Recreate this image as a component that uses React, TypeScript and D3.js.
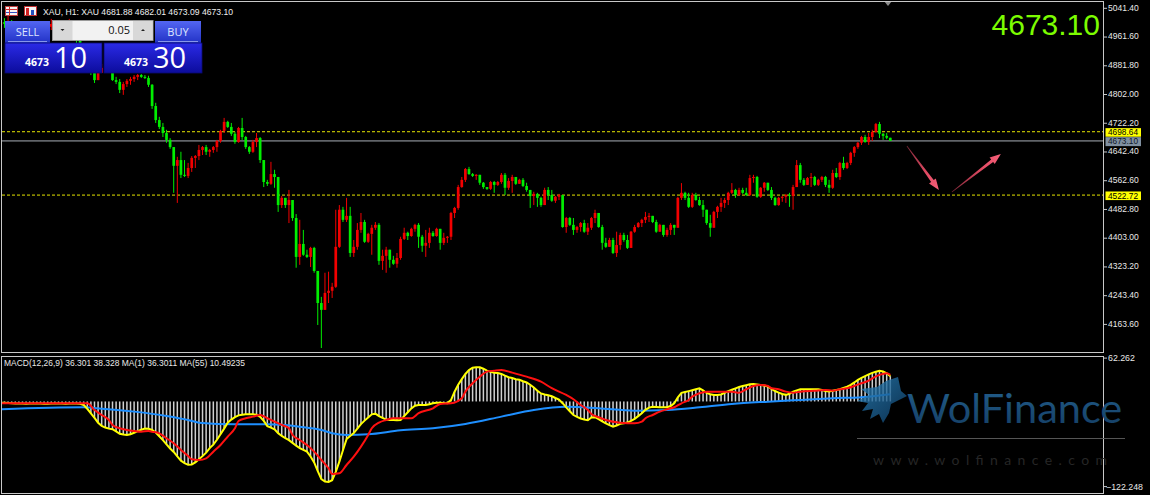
import React from "react";
import * as d3 from "d3";

// ---------- DATA (XAU H1) ----------
const firstOpen = 4995;
const closes = [
  5003, 4998, 5006, 4992, 4981, 4987, 4973, 4965, 4976, 4967,
  4959, 4970, 4981, 4990, 4998, 4984, 4973, 4981, 4992, 5001,
  4981, 4953, 4926, 4898, 4876, 4865, 4842, 4862, 4876, 4881,
  4870, 4842, 4837, 4815, 4831, 4840, 4845, 4851, 4856, 4851,
  4848, 4829, 4770, 4731, 4712, 4695, 4676, 4656, 4604, 4620,
  4579, 4576, 4598, 4626, 4631, 4648, 4656, 4643, 4648, 4656,
  4673, 4701, 4726, 4712, 4693, 4670, 4709, 4684, 4656, 4643,
  4670, 4681, 4620, 4559, 4554, 4581, 4573, 4495, 4515, 4495,
  4509, 4459, 4351, 4387, 4357, 4351, 4376, 4312, 4223, 4204,
  4251, 4257, 4268, 4379, 4482, 4454, 4465, 4362, 4379, 4426,
  4448, 4393, 4415, 4432, 4440, 4340, 4354, 4371, 4343, 4332,
  4348, 4401, 4418, 4409, 4429, 4440, 4407, 4382, 4390, 4418,
  4409, 4429, 4390, 4404, 4407, 4473, 4487, 4545, 4565, 4595,
  4581, 4576, 4579, 4557, 4545, 4540, 4559, 4551, 4559, 4579,
  4543, 4562, 4573, 4554, 4565, 4548, 4537, 4520, 4526, 4515,
  4495, 4537, 4523, 4507, 4518, 4523, 4434, 4459, 4440, 4426,
  4434, 4445, 4421, 4432, 4459, 4473, 4434, 4390, 4379, 4398,
  4362, 4384, 4412, 4398, 4376, 4421, 4434, 4445, 4454, 4462,
  4465, 4448, 4421, 4440, 4412, 4426, 4440, 4432, 4515, 4529,
  4515, 4490, 4523, 4509, 4495, 4482, 4445, 4432, 4476, 4490,
  4501, 4509, 4529, 4537, 4523, 4537, 4529, 4523, 4570, 4573,
  4518, 4543, 4557, 4537, 4515, 4495, 4515, 4518, 4523, 4520,
  4545, 4606, 4565, 4551, 4570, 4573, 4551, 4565, 4573, 4551,
  4543, 4584, 4573, 4612, 4598, 4612, 4640, 4656, 4668, 4684,
  4670, 4684, 4698, 4720, 4693, 4687, 4681.88, 4673.1,
];
const highs = [
  5017, 5014, 5020, 5009, 4998, 4995, 4990, 4981, 4984, 4981,
  4973, 4978, 4992, 5003, 5012, 5001, 4990, 4992, 5003, 5012,
  5003, 4987, 4959, 4931, 4903, 4884, 4862, 4867, 4887, 4892,
  4887, 4859, 4851, 4845, 4837, 4845, 4851, 4856, 4859, 4859,
  4856, 4854, 4831, 4779, 4740, 4723, 4704, 4681, 4656, 4629,
  4643, 4620, 4612, 4631, 4634, 4662, 4659, 4662, 4651, 4659,
  4676, 4704, 4737, 4729, 4723, 4698, 4712, 4737, 4687, 4659,
  4676, 4695, 4684, 4620, 4565, 4615, 4593, 4573, 4520, 4515,
  4537, 4509, 4470, 4454, 4426, 4371, 4379, 4379, 4310, 4240,
  4307, 4310, 4279, 4482, 4495, 4490, 4515, 4490, 4398, 4445,
  4473, 4454, 4418, 4440, 4448, 4445, 4371, 4379, 4371, 4354,
  4362, 4407, 4432, 4421, 4432, 4443, 4445, 4412, 4426, 4432,
  4423, 4432, 4426, 4418, 4409, 4476, 4490, 4551, 4573, 4598,
  4601, 4584, 4581, 4573, 4559, 4545, 4562, 4562, 4562, 4584,
  4584, 4570, 4579, 4570, 4568, 4570, 4557, 4537, 4532, 4529,
  4518, 4543, 4545, 4537, 4520, 4526, 4523, 4462, 4462, 4459,
  4437, 4448, 4454, 4445, 4462, 4482, 4473, 4440, 4404, 4404,
  4404, 4421, 4418, 4418, 4412, 4423, 4440, 4448, 4457, 4476,
  4473, 4465, 4454, 4443, 4440, 4432, 4445, 4440, 4518, 4556,
  4532, 4529, 4529, 4529, 4518, 4509, 4482, 4468, 4479, 4493,
  4515, 4515, 4532, 4556, 4540, 4543, 4543, 4543, 4579, 4579,
  4576, 4545, 4559, 4557, 4545, 4518, 4518, 4520, 4526, 4529,
  4551, 4620, 4612, 4570, 4573, 4584, 4576, 4568, 4576, 4576,
  4565, 4593, 4598, 4615, 4629, 4615, 4643, 4659, 4670, 4687,
  4690, 4695, 4704, 4723, 4726, 4695, 4695, 4682.01,
];
const lows = [
  4990, 4987, 4992, 4981, 4973, 4970, 4962, 4953, 4956, 4953,
  4945, 4951, 4965, 4976, 4981, 4973, 4962, 4965, 4973, 4984,
  4967, 4942, 4912, 4887, 4867, 4856, 4834, 4851, 4865, 4867,
  4862, 4840, 4831, 4806, 4801, 4823, 4829, 4837, 4842, 4848,
  4845, 4823, 4762, 4723, 4706, 4684, 4668, 4651, 4529, 4501,
  4570, 4573, 4570, 4587, 4598, 4620, 4634, 4634, 4629, 4640,
  4643, 4668, 4695, 4709, 4687, 4665, 4668, 4676, 4651, 4637,
  4640, 4656, 4612, 4545, 4548, 4551, 4543, 4476, 4487, 4487,
  4445, 4451, 4321, 4329, 4354, 4348, 4323, 4307, 4162, 4098,
  4204, 4223, 4237, 4265, 4376, 4448, 4448, 4351, 4351, 4371,
  4418, 4390, 4390, 4357, 4426, 4329, 4315, 4307, 4321, 4329,
  4321, 4343, 4398, 4398, 4407, 4421, 4376, 4365, 4351, 4376,
  4407, 4407, 4371, 4384, 4390, 4398, 4459, 4482, 4543, 4559,
  4579, 4573, 4565, 4551, 4540, 4537, 4537, 4529, 4548, 4554,
  4523, 4537, 4529, 4551, 4554, 4545, 4532, 4487, 4495, 4490,
  4490, 4495, 4509, 4504, 4501, 4509, 4432, 4418, 4437, 4412,
  4418, 4421, 4418, 4412, 4426, 4445, 4432, 4371, 4376, 4379,
  4359, 4351, 4371, 4393, 4373, 4376, 4418, 4432, 4434, 4445,
  4448, 4445, 4418, 4421, 4407, 4407, 4412, 4412, 4432, 4509,
  4509, 4487, 4487, 4507, 4493, 4462, 4440, 4407, 4432, 4459,
  4476, 4487, 4495, 4526, 4515, 4520, 4526, 4520, 4520, 4557,
  4515, 4515, 4532, 4534, 4509, 4493, 4493, 4504, 4501, 4490,
  4482, 4545, 4557, 4548, 4551, 4545, 4548, 4548, 4559, 4545,
  4529, 4540, 4570, 4565, 4593, 4595, 4606, 4629, 4651, 4662,
  4668, 4662, 4673, 4695, 4681, 4676, 4678, 4673.09,
];
// MACD main line (MA(1) of MACD, yellow) and histogram
const macdMain = [
  -1.7, -1.9, -2.2, -2.6, -2.9, -3.0, -3.1, -3.2, -3.0, -2.8,
  -2.9, -3.1, -3.3, -3.2, -3.0, -2.9, -2.8, -3.0, -3.2, -3.1,
  -2.9, -3.0, -3.4, -5.0, -10.5, -17.0, -23.5, -30.5, -35.0, -37.5,
  -39.0, -39.8, -43.0, -46.5, -47.5, -48.0, -47.0, -45.0, -42.5, -40.5,
  -39.0, -39.2, -41.0, -44.5, -50.0, -55.5, -61.5, -67.5, -72.5, -79.0,
  -85.0, -88.5, -91.0, -90.5, -87.5, -83.0, -78.5, -73.5, -67.0, -62.0,
  -55.0, -47.0, -39.0, -30.5, -26.0, -22.5, -20.0, -19.0, -18.5, -18.4,
  -18.4, -19.0, -22.0, -28.0, -35.5, -37.5, -40.0, -45.5, -49.5, -52.5,
  -55.5, -59.5, -63.5, -67.0, -69.5, -72.0, -79.0, -87.5, -100.0, -111.5,
  -115.0, -115.5, -113.0, -101.0, -86.5, -70.0, -54.0, -49.5, -45.5, -39.0,
  -32.5, -27.5, -23.0, -18.5, -17.5, -21.0, -23.5, -26.0, -26.6, -26.6,
  -27.0, -26.5, -21.0, -15.5, -10.0, -6.2, -5.0, -5.0, -5.0, -4.0,
  -2.6, -2.0, -1.7, -2.2, -2.4, 2.0, 14.0, 24.0, 32.0, 39.5,
  45.0, 48.5, 49.1, 49.1, 47.0, 44.2, 42.5, 41.2, 40.8, 39.5,
  37.0, 34.8, 33.6, 32.0, 31.1, 29.0, 27.2, 24.0, 20.0, 15.5,
  11.5, 10.0, 8.9, 7.4, 5.0, 2.8, -2.5, -8.5, -14.0, -19.5,
  -22.0, -24.5, -26.0, -27.0, -23.0, -22.5, -25.5, -28.5, -31.5, -34.0,
  -36.2, -34.5, -32.2, -31.2, -30.3, -27.8, -25.0, -21.0, -17.0, -12.0,
  -8.8, -7.6, -8.0, -8.3, -8.3, -8.3, -6.5, -2.5, 6.0, 12.3,
  13.5, 14.8, 16.1, 17.4, 18.8, 15.8, 12.2, 10.4, 9.3, 9.3,
  10.0, 12.5, 14.8, 16.9, 18.8, 20.8, 22.1, 23.4, 24.6, 25.1,
  24.3, 23.6, 22.9, 21.6, 18.2, 15.0, 12.8, 10.7, 9.5, 11.0,
  14.1, 15.9, 17.5, 17.5, 17.5, 17.5, 17.5, 17.5, 16.5, 15.0,
  14.3, 15.3, 16.4, 17.5, 19.4, 21.3, 23.8, 27.3, 31.0, 34.0,
  36.5, 38.8, 41.0, 42.6, 44.0, 43.0, 40.5, 36.3,
];
// Signal line (red), read at these bar indices
const signalIdx = [0, 24, 26, 28, 30, 31, 33, 35, 37, 39, 41, 42, 44, 46, 48, 50, 52, 53, 55, 57, 59, 61, 63, 65, 66, 68, 70, 72, 74, 76, 78, 80, 81, 83, 85, 87, 89, 91, 92, 94, 96, 98, 100, 102, 103, 105, 107, 109, 111, 114, 116, 120, 122, 125, 128, 129, 131, 133, 135, 137, 139, 142, 146, 150, 153, 157, 159, 161, 163, 164, 166, 168, 172, 176, 178, 179, 181, 183, 185, 187, 189, 191, 192, 194, 196, 200, 203, 205, 207, 209, 211, 213, 214, 216, 218, 220, 222, 226, 229, 231, 233, 235, 237, 239, 241, 242, 244, 246, 247];
const signalVals = [-2.6, -2.6, -12.2, -19.4, -26.6, -33.7, -38.5, -40.9, -42.4, -43.4, -42.4, -43.4, -45.7, -52.8, -60.0, -69.6, -78.3, -83.0, -84.0, -81.6, -72.1, -62.5, -50.5, -38.5, -28.0, -24.1, -21.8, -19.4, -24.1, -29.0, -33.7, -38.5, -48.1, -55.3, -62.5, -72.1, -84.0, -95.9, -104.1, -103.1, -91.2, -79.3, -64.9, -48.1, -38.5, -30.4, -26.6, -24.1, -24.1, -24.1, -16.9, -9.8, -3.6, -2.6, 4.6, 14.1, 26.1, 35.6, 42.8, 44.2, 45.2, 41.4, 35.6, 28.4, 19.0, 9.3, 3.2, -5.0, -12.2, -17.9, -22.7, -26.6, -30.4, -31.3, -29.0, -24.1, -19.4, -14.6, -11.2, -8.3, -2.6, 2.2, 6.9, 11.8, 14.1, 14.1, 14.1, 12.6, 17.5, 22.3, 23.7, 22.3, 19.0, 17.5, 14.1, 12.6, 14.1, 15.5, 16.5, 15.5, 17.5, 19.0, 22.3, 26.1, 29.9, 33.3, 38.1, 40.5, 38.3];
// MA(55) of MACD (blue), read at these bar indices
const ma55Idx = [0, 23, 28, 37, 46, 52, 55, 65, 74, 83, 89, 92, 96, 102, 111, 120, 129, 139, 148, 157, 166, 176, 185, 194, 203, 213, 222, 231, 241, 247];
const ma55Vals = [-11.2, -8.4, -10.3, -14.6, -20.8, -26.6, -30.4, -32.8, -32.8, -36.2, -40.9, -45.7, -48.1, -47.1, -41.5, -38.5, -32.3, -21.8, -12.2, -7.5, -9.8, -13.2, -12.2, -8.4, -3.6, -0.3, 2.2, 4.6, 6.9, 10.5];

const priceTicks = [5041.4, 4961.6, 4881.8, 4802.0, 4722.2, 4642.4, 4562.6, 4482.8, 4403.0, 4323.2, 4243.4, 4163.6];
const macdTicks = [62.262, -122.248];
const levelLines = [4698.64, 4522.72];
const bidPrice = 4673.1;
const headerText = "XAU, H1:  XAU  4681.88 4682.01 4673.09 4673.10";
const macdText = "MACD(12,26,9) 36.301 38.328 MA(1) 36.3011 MA(55) 10.49235";
const lotText = "0.05";
const sellBig = ["4673", "10"];
const buyBig = ["4673", "30"];
// forecast arrows: [barIndex, price] -> [barIndex, price]
const arrows = [
  { from: [251.6, 4659], to: [260.5, 4537] },
  { from: [264.1, 4531], to: [277.7, 4637] },
];

const FONT = "'Liberation Sans', Arial, sans-serif";

function arrowPath(x1: number, y1: number, x2: number, y2: number) {
  const dx = x2 - x1, dy = y2 - y1;
  const L = Math.hypot(dx, dy);
  const ux = dx / L, uy = dy / L;
  const nx = -uy, ny = ux;
  const hl = 11, hw = 4.2, w0 = 0.3, w1 = 1.6;
  const bx = x2 - ux * hl, by = y2 - uy * hl;
  const p = (a: number, b: number) => `${a.toFixed(2)},${b.toFixed(2)}`;
  return `M${p(x1 + nx * w0, y1 + ny * w0)} L${p(bx + nx * w1, by + ny * w1)} L${p(bx + nx * hw, by + ny * hw)} L${p(x2, y2)} L${p(bx - nx * hw, by - ny * hw)} L${p(bx - nx * w1, by - ny * w1)} L${p(x1 - nx * w0, y1 - ny * w0)} Z`;
}

export default function App() {
  const W = 1150, H = 495;
  const N = closes.length;
  const x = d3.scaleLinear().domain([0, N - 1]).range([0.87, 890.3]);
  const y = d3.scaleLinear().domain([4163.6, 5041.4]).range([324.4, 8.3]);
  const ym = d3.scaleLinear().domain([-122.248, 62.262]).range([486.6, 358.1]);
  const opens = closes.map((c, i) => (i === 0 ? firstOpen : closes[i - 1]));
  const fmt = d3.format(".2f");
  const bodyW = 2.7;

  const yellowLine = d3.line<number>().x((_, i) => x(i)).y((d) => ym(d));
  const redLine = d3.line<number>().x((_, i) => x(signalIdx[i])).y((d) => ym(d)).curve(d3.curveMonotoneX);
  const blueLine = d3.line<number>().x((_, i) => x(ma55Idx[i])).y((d) => ym(d)).curve(d3.curveMonotoneX);
  const zeroY = ym(0);

  const RIGHT = 1103.5;

  return (
    <svg width={W} height={H} style={{ position: "absolute", left: 0, top: 0, display: "block", background: "#000" }}>
      <defs>
        <clipPath id="mainClip"><rect x={2} y={2} width={RIGHT - 2.5} height={350} /></clipPath>
        <clipPath id="macdClip"><rect x={2} y={357} width={RIGHT - 2.5} height={136} /></clipPath>
        <linearGradient id="btnTop" x1="0" y1="0" x2="0" y2="1">
          <stop offset="0" stopColor="#5366f2" />
          <stop offset="1" stopColor="#2232c6" />
        </linearGradient>
        <linearGradient id="btnBot" x1="0" y1="0" x2="0" y2="1">
          <stop offset="0" stopColor="#2a2ae6" />
          <stop offset="1" stopColor="#0c0c9c" />
        </linearGradient>
        <linearGradient id="wolfText" x1="0" y1="0" x2="0" y2="1">
          <stop offset="0" stopColor="#23618f" />
          <stop offset="1" stopColor="#143c62" />
        </linearGradient>
        <linearGradient id="wolfHead" x1="0" y1="0" x2="1" y2="1">
          <stop offset="0" stopColor="#2a86c0" />
          <stop offset="1" stopColor="#0f3d66" />
        </linearGradient>
        {arrows.map((a, k) => (
          <linearGradient key={k} id={`arr${k}`} gradientUnits="userSpaceOnUse"
            x1={x(a.from[0])} y1={y(a.from[1])} x2={x(a.to[0])} y2={y(a.to[1])}>
            <stop offset="0" stopColor="#7a2636" />
            <stop offset="0.6" stopColor="#e04a62" />
            <stop offset="1" stopColor="#f7607a" />
          </linearGradient>
        ))}
      </defs>
      <rect x={0} y={0} width={W} height={H} fill="#000" />

      {/* main price panel */}
      <g clipPath="url(#mainClip)">
        {levelLines.map((lv) => (
          <line key={lv} x1={2} x2={RIGHT} y1={y(lv)} y2={y(lv)} stroke="#e6e600" strokeWidth={1} strokeDasharray="3,2" />
        ))}
        <line x1={2} x2={RIGHT} y1={y(bidPrice)} y2={y(bidPrice)} stroke="#a8aeb6" strokeWidth={1} />
        {closes.map((c, i) => {
          const o = opens[i];
          const up = c > o;
          const col = up ? "#f20000" : "#00ee00";
          const top = Math.max(highs[i], o, c);
          const bot = Math.min(lows[i], o, c);
          const bTop = y(Math.max(o, c));
          const bBot = y(Math.min(o, c));
          const cx = x(i);
          return (
            <g key={i}>
              <line x1={cx} x2={cx} y1={y(top)} y2={y(bot)} stroke={col} strokeWidth={1} />
              <rect x={cx - bodyW / 2} y={bTop} width={bodyW} height={Math.max(1, bBot - bTop)} fill={col} />
            </g>
          );
        })}
        {arrows.map((a, k) => (
          <path key={k} d={arrowPath(x(a.from[0]), y(a.from[1]), x(a.to[0]), y(a.to[1]))} fill={`url(#arr${k})`} />
        ))}
        <polygon points="884,1 892,1 888,6" fill="#8a8a8a" />
      </g>

      {/* frames */}
      <rect x={1.5} y={1.5} width={RIGHT - 1.5} height={351} fill="none" stroke="#c8c8c8" strokeWidth={1} />
      <rect x={1.5} y={356.5} width={RIGHT - 1.5} height={137} fill="none" stroke="#c8c8c8" strokeWidth={1} />

      {/* price axis */}
      {priceTicks.map((t) => (
        <g key={t}>
          <line x1={RIGHT} x2={RIGHT + 3.5} y1={y(t)} y2={y(t)} stroke="#c8c8c8" />
          <text x={1108} y={y(t) - 0.5} dy="0.33em" fontFamily={FONT} fontSize={8.5} fill="#e8e8e8">{fmt(t)}</text>
        </g>
      ))}
      {levelLines.map((lv) => (
        <g key={lv}>
          <rect x={1105.5} y={y(lv) - 3.6} width={35.5} height={8.6} fill="#ffff00" />
          <text x={1108} y={y(lv) + 0.7} dy="0.33em" fontFamily={FONT} fontSize={8.3} fill="#000">{fmt(lv)}</text>
        </g>
      ))}
      <rect x={1105.5} y={y(bidPrice) - 3.8} width={35.5} height={9} fill="#7f8fa0" />
      <text x={1108} y={y(bidPrice) + 0.7} dy="0.33em" fontFamily={FONT} fontSize={8.3} fill="#101828">{fmt(bidPrice)}</text>

      {/* big price */}
      <text x={1100} y={35} textAnchor="end" fontFamily={FONT} fontSize={30} fill="#7cfc00">{fmt(bidPrice)}</text>

      {/* header */}
      <g>
        <rect x={5.5} y={6.5} width={12} height={9} fill="#f4f4f4" stroke="#c04040" />
        <line x1={6} x2={17} y1={9.5} y2={9.5} stroke="#d03030" />
        <line x1={6} x2={17} y1={12.5} y2={12.5} stroke="#3050c0" />
        <line x1={9.5} x2={9.5} y1={7} y2={15} stroke="#d03030" />
        <rect x={24.5} y={6.5} width={12} height={9} fill="#f4f4f4" stroke="#c03030" />
        <rect x={26} y={8} width={3} height={7} fill="#d02020" />
        <rect x={31} y={10} width={3} height={5} fill="#2050c0" />
        <text x={43} y={15} fontFamily={FONT} fontSize={8.8} fill="#f0f0f0" textLength={190} lengthAdjust="spacingAndGlyphs">{headerText}</text>
      </g>

      {/* one-click trading panel */}
      <g fontFamily="'Open Sans', 'Noto Sans', sans-serif">
        <rect x={5} y={21} width={45} height={22} fill="url(#btnTop)" />
        <text x={27.5} y={35.5} textAnchor="middle" fontSize={11} fill="#dfe6ff">SELL</text>
        <line x1={8} x2={47} y1={41.5} y2={41.5} stroke="#8796ea" />
        <rect x={155} y={21} width={46} height={22} fill="url(#btnTop)" />
        <text x={178} y={35.5} textAnchor="middle" fontSize={11} fill="#dfe6ff">BUY</text>
        <line x1={158} x2={198} y1={41.5} y2={41.5} stroke="#8796ea" />
        <rect x={52.5} y={20.5} width={100.5} height={20} fill="#f2f2f2" stroke="#9a9a9a" />
        <rect x={53} y={21} width={19.5} height={19} fill="#d8d8d8" />
        <rect x={133} y={21} width={19.5} height={19} fill="#d8d8d8" />
        <polygon points="60.5,29 64.5,29 62.5,31" fill="#202020" />
        <polygon points="141,31 145,31 143,29" fill="#202020" />
        <text x={130} y={34} textAnchor="end" fontSize={11} fill="#101010">{lotText}</text>
        <rect x={5} y={43} width={97} height={30} fill="url(#btnBot)" stroke="#0a0a70" strokeWidth={0.8} />
        <rect x={104} y={43} width={98} height={30} fill="url(#btnBot)" stroke="#0a0a70" strokeWidth={0.8} />
        <text x={25} y={66} fontSize={10.5} fontWeight="bold" fill="#ffffff">{sellBig[0]}</text>
        <text x={54} y={67.5} fontSize={29} fill="#ffffff">{sellBig[1]}</text>
        <text x={124} y={66} fontSize={10.5} fontWeight="bold" fill="#ffffff">{buyBig[0]}</text>
        <text x={153} y={67.5} fontSize={29} fill="#ffffff">{buyBig[1]}</text>
      </g>

      {/* MACD panel */}
      <g clipPath="url(#macdClip)">
        {macdMain.map((v, i) => (
          <rect key={i} x={x(i) - 0.75} y={Math.min(zeroY, ym(v))} width={1.5} height={Math.max(0.6, Math.abs(ym(v) - zeroY))} fill="#d0d0d0" />
        ))}
        <path d={blueLine(ma55Vals) || ""} fill="none" stroke="#1e8fff" strokeWidth={2} />
        <path d={yellowLine(macdMain) || ""} fill="none" stroke="#ffff00" strokeWidth={2} />
        <path d={redLine(signalVals) || ""} fill="none" stroke="#ff1010" strokeWidth={2} />
      </g>
      <text x={4} y={366} fontFamily={FONT} fontSize={8.8} fill="#e8e8e8" textLength={241} lengthAdjust="spacingAndGlyphs">{macdText}</text>
      {macdTicks.map((t) => (
        <g key={t}>
          <line x1={RIGHT} x2={RIGHT + 3.5} y1={ym(t)} y2={ym(t)} stroke="#c8c8c8" />
          <text x={t < 0 ? 1106 : 1108} y={ym(t)} dy="0.35em" fontFamily={FONT} fontSize={8.8} fill="#e8e8e8">{d3.format(".3f")(t)}</text>
        </g>
      ))}

      {/* watermark */}
      <g>
        <path d="M898,377 L901,391 L907,396 L899,400 L891,404 L889,413 L883,423 L879,414 L870,419 L873,409 L862,411 L868,403 L857,401 L869,395 L861,389 L877,387 L886,381 Z"
          fill="url(#wolfHead)" opacity={0.8} />
        <text x={907} y={423} fontFamily="Lato, 'Open Sans', sans-serif" fontSize={41.5} fill="url(#wolfText)">WolFinance</text>
        <line x1={857} x2={1125} y1={438.5} y2={438.5} stroke="#555" />
        <text x={873} y={465} fontFamily="Lato, 'Open Sans', sans-serif" fontSize={14} fill="#262626" textLength={234} lengthAdjust="spacing">www.wolfinance.com</text>
      </g>
    </svg>
  );
}
